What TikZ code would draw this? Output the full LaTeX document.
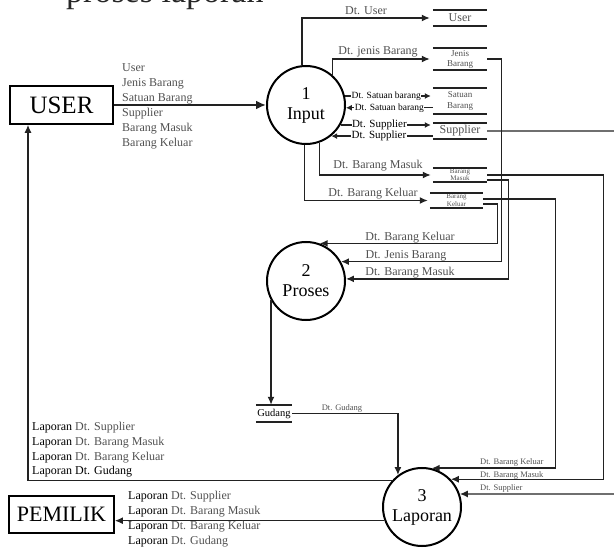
\documentclass[tikz,border=0pt]{standalone}
\usepackage{fontspec}
\setmainfont{Liberation Serif}
\usetikzlibrary{arrows.meta}
\definecolor{lbl}{HTML}{505050}
\definecolor{wire}{HTML}{222222}

\begin{document}
\begin{tikzpicture}[x=1pt,y=-1pt,
  fs/.style={font=\fontsize{#1}{#1}\selectfont},
  proc/.style={circle,draw=black,line width=2pt,minimum size=78pt,inner sep=0pt,
    align=center,font=\fontsize{18}{20}\selectfont},
  ent/.style={draw=black,line width=1.6pt,inner sep=0pt},
  store/.style={inner sep=0pt,minimum width=54pt,align=center,text=lbl},
  storeline/.style={draw=wire,line width=1.6pt},
  line/.style={draw=wire,line width=1.4pt},
  flow/.style={line,-{Latex[length=8pt,width=7pt]}},
  sflow/.style={line,-{Latex[length=6pt,width=6pt]}},
  lab/.style={text=lbl,inner sep=0pt,fs=12},
  onl/.style={fill=white,inner sep=0.5pt},
]
\useasboundingbox (0,0) rectangle (614,548);
\clip (0,0) rectangle (614,548);

% heading line, cut off at the top edge
\node[anchor=base west,inner sep=0pt,fs=34,text=black!85] (head) at (66,3) {proses laporan};

% external entities
\node[ent,minimum width=103pt,minimum height=38pt,fs=25] (user) at (61.5,105) {USER};
\node[ent,minimum width=105pt,minimum height=37pt,fs=22] (pem) at (61.5,514.5) {PEMILIK};

% processes
\node[proc] (c1) at (306,105) {1\\Input};
\node[proc] (c2) at (306,281) {2\\Proses};
\node[proc] (c3) at (422,507) {3\\Laporan};

% data stores
\node[store,minimum height=16pt,fs=12] (su) at (460,18) {User};
\node[store,minimum height=22pt,font=\fontsize{9}{10}\selectfont] (sj) at (460,59) {Jenis\\Barang};
\node[store,minimum height=26pt,font=\fontsize{9}{11}\selectfont] (ss) at (460,101) {Satuan\\Barang};
\node[store,minimum height=16pt,fs=12] (sp) at (460,131) {Supplier};
\node[store,minimum height=14pt,font=\fontsize{7}{7}\selectfont] (sm) at (460,175) {Barang\\Masuk};
\node[store,minimum width=53pt,minimum height=15pt,font=\fontsize{7}{8}\selectfont] (sk) at (456.5,200.5) {Barang\\Keluar};
\node[store,minimum width=36pt,minimum height=17pt,fs=10.5,text=black] (sg) at (274,413.5) {Gudang};
\foreach \s in {su,sj,ss,sp,sm,sk,sg}
  \draw[storeline] (\s.north west) -- (\s.north east) (\s.south west) -- (\s.south east);

% USER -> Input
\draw[line,line width=2pt,-{Latex[length=10pt,width=9pt]}] (user.east) -- (c1.west);
\node[lab,anchor=west,align=left,font=\fontsize{12}{15}\selectfont] (inlab) at (122,106)
  {User\\Jenis Barang\\Satuan Barang\\Supplier\\Barang Masuk\\Barang Keluar};

% Input -> stores
\draw[flow,shorten >=3pt] ([xshift=-4pt]c1.north) |- (su.west);
\node[lab] (lu) at (366,11) {Dt. User};
\draw[flow,shorten >=3pt] (c1.48) |- (sj.west);
\node[lab] (lj) at (378,52) {Dt. jenis Barang};
\draw[sflow,shorten >=2pt] (c1.13) -- (c1.13 -| ss.west)
  node[onl,pos=0.47,fs=9.5] (ls1) {Dt. Satuan barang};
\draw[sflow] (ss.west |- c1.-4) -- (c1.-4)
  node[onl,pos=0.5,fs=9.5] (ls2) {Dt. Satuan barang};
\draw[sflow,shorten >=2pt] (c1.-30) -- (c1.-30 -| sp.west)
  node[onl,pos=0.42,fs=11] (lp1) {Dt. Supplier};
\draw[sflow] (sp.west |- c1.-51) -- (c1.-51)
  node[onl,pos=0.53,fs=11] (lp2) {Dt. Supplier};
\draw[flow,shorten >=2pt] (c1.-70) |- (sm.west);
\node[lab] (lm) at (378,166) {Dt. Barang Masuk};
\draw[flow,shorten >=2pt] (c1.-92) |- (sk.west);
\node[lab] (lk) at (373,194) {Dt. Barang Keluar};

% stores -> Proses
\draw[flow] (sj.east) -- ([xshift=14pt]sj.east) |- (c2.29);
\node[lab] (lj2) at (406,256) {Dt. Jenis Barang};
\draw[flow] ([yshift=-5pt]sm.east) -- ++(21,0) |- (c2.3);
\node[lab] (lm2) at (410,273) {Dt. Barang Masuk};
\draw[flow] ([yshift=-3.5pt]sk.east) -- ++(14,0) |- (c2.70);
\node[lab] (lk2) at (410,238) {Dt. Barang Keluar};

% Proses -> Gudang -> Laporan
\draw[flow] (c2.-151) -- (c2.-151 |- sg.north);
\draw[flow] (sg.east) -| (c3.127);
\node[lab,fs=8.5] (lg) at (342,408) {Dt. Gudang};

% stores -> Laporan
\draw[flow] ([yshift=1.5pt]sk.east) -- ++(72,0) |- (c3.76);
\draw[flow] (sm.east) -- ++(116,0) |- (c3.44);
\draw[flow] (sp.east) -- (620,131) -- (620,494) -- (c3.19);
\node[lab,fs=8.5,anchor=west] (lk3) at (480,462) {Dt. Barang Keluar};
\node[lab,fs=8.5,anchor=west] (lm3) at (480,475) {Dt. Barang Masuk};
\node[lab,fs=8.5,anchor=west] (lp3) at (480,488) {Dt. Supplier};

% Laporan -> USER and PEMILIK
\draw[flow] (c3.138) -| ([xshift=-33.5pt]user.south);
\node[anchor=west,align=left,inner sep=0pt,font=\fontsize{12}{14.7}\selectfont] (ul) at (32,450)
  {Laporan \textcolor{lbl}{Dt. Supplier}\\Laporan \textcolor{lbl}{Dt. Barang Masuk}\\
   Laporan \textcolor{lbl}{Dt. Barang Keluar}\\Laporan Dt. Gudang};
\draw[flow] (c3.-160.5) -- (c3.-160.5 -| pem.east);
\node[anchor=west,align=left,inner sep=0pt,font=\fontsize{12}{15}\selectfont] (pl) at (128,519.5)
  {Laporan \textcolor{lbl}{Dt. Supplier}\\Laporan \textcolor{lbl}{Dt. Barang Masuk}\\
   Laporan \textcolor{lbl}{Dt. Barang Keluar}\\Laporan \textcolor{lbl}{Dt. Gudang}};
\end{tikzpicture}
\end{document}
